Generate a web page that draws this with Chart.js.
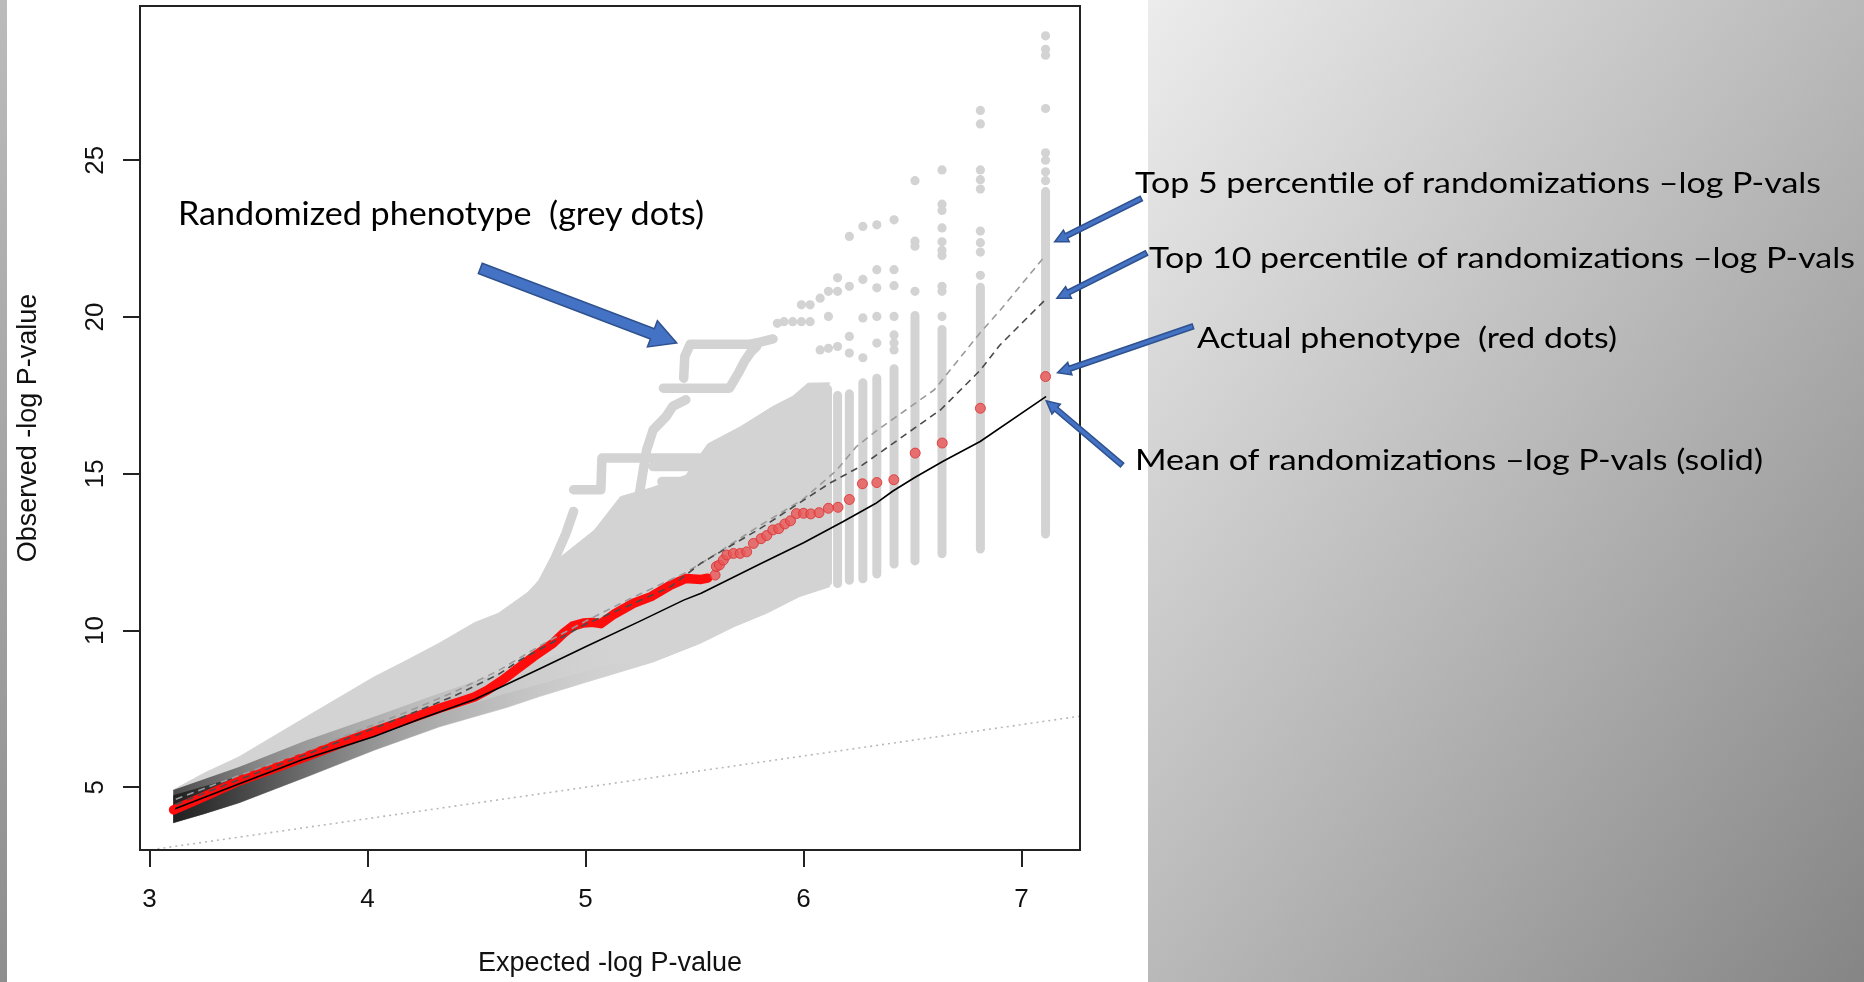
<!DOCTYPE html>
<html>
<head>
<meta charset="utf-8">
<script src="https://cdn.jsdelivr.net/npm/chart.js@4.4.1/dist/chart.umd.min.js"></script>
<style>
  html, body { margin: 0; padding: 0; }
  body { width: 1864px; height: 982px; position: relative; overflow: hidden; background: #fff; }
  #leftStrip { position: absolute; left: 0; top: 0; width: 7px; height: 982px; background: linear-gradient(180deg, #bbbbbb, #8e8e8e); }
  #rightPanel { position: absolute; left: 1148px; top: 0; width: 716px; height: 982px; background: linear-gradient(to bottom right, #ececec 0%, #b9b9b9 50%, #858585 100%); }
  #chart { position: absolute; left: 0; top: 0; }
  .note { position: absolute; font-family: Lato, "Open Sans", sans-serif; color: #000; white-space: pre; line-height: 1; transform-origin: 0 0; }
  .b { display: inline-block; width: 0; height: 0; vertical-align: baseline; }
</style>
</head>
<body>
<div id="leftStrip"></div>
<div id="rightPanel"></div>
<canvas id="chart" width="1864" height="982"></canvas>

<div class="note" data-left="178" data-base="225" data-w="526" style="font-size:33px">Randomized phenotype  (grey dots)<span class="b"></span></div>
<div class="note" data-left="1135" data-base="193" data-w="686" style="font-size:28px">Top 5 percentile of randomizations –log P-vals<span class="b"></span></div>
<div class="note" data-left="1149" data-base="268" data-w="706" style="font-size:28px">Top 10 percentile of randomizations –log P-vals<span class="b"></span></div>
<div class="note" data-left="1197" data-base="348" data-w="420" style="font-size:28px">Actual phenotype  (red dots)<span class="b"></span></div>
<div class="note" data-left="1135" data-base="470" data-w="628" style="font-size:28px">Mean of randomizations –log P-vals (solid)<span class="b"></span></div>

<script>
// axis ticks
const xTicks = [3, 4, 5, 6, 7];
const yTicks = [5, 10, 15, 20, 25];

// actual phenotype, dense part (drawn as a thick red line)
const redLineX = [3.11, 3.25, 3.41, 3.57, 3.72, 3.87, 4.03, 4.18, 4.33, 4.42, 4.49, 4.55, 4.62, 4.68, 4.76, 4.85, 4.90, 4.94, 4.99, 5.03, 5.07, 5.13, 5.22, 5.30, 5.39, 5.46, 5.53, 5.56];
const redLineY = [4.28, 4.70, 5.20, 5.60, 5.98, 6.38, 6.78, 7.15, 7.52, 7.72, 7.88, 8.10, 8.42, 8.74, 9.16, 9.59, 9.92, 10.14, 10.24, 10.26, 10.22, 10.52, 10.87, 11.08, 11.45, 11.66, 11.63, 11.67];

// actual phenotype, single dots
const redX = [5.594, 5.60, 5.614, 5.632, 5.648, 5.678, 5.709, 5.739, 5.770, 5.805, 5.831, 5.859, 5.886, 5.914, 5.940, 5.967, 6.000, 6.033, 6.071, 6.114, 6.158, 6.210, 6.270, 6.336, 6.414, 6.512, 6.636, 6.811, 7.110];
const redY = [11.77, 12.04, 12.09, 12.25, 12.41, 12.46, 12.46, 12.51, 12.78, 12.93, 13.03, 13.21, 13.25, 13.40, 13.50, 13.73, 13.74, 13.72, 13.76, 13.90, 13.93, 14.18, 14.68, 14.72, 14.81, 15.66, 15.98, 17.09, 18.10];

// mean of randomizations (solid)
const meanX = [3.12, 3.40, 3.70, 4.03, 4.24, 4.49, 4.79, 5.00, 5.25, 5.45, 5.53, 5.80, 6.00, 6.18, 6.33, 6.41, 6.51, 6.64, 6.81, 7.11];
const meanY = [4.32, 5.08, 5.88, 6.62, 7.18, 7.80, 8.78, 9.48, 10.30, 10.97, 11.19, 12.12, 12.80, 13.47, 14.05, 14.45, 14.88, 15.40, 16.03, 17.45];

// top 5 percentile (light dashed)
const top5X = [3.12, 3.40, 3.72, 4.00, 4.20, 4.40, 4.60, 4.80, 5.00, 5.20, 5.46, 5.60, 5.80, 6.00, 6.15, 6.24, 6.33, 6.60, 6.81, 6.90, 7.11];
const top5Y = [4.62, 5.35, 6.15, 6.92, 7.46, 8.05, 8.72, 9.55, 10.30, 11.00, 11.85, 12.45, 13.35, 14.20, 15.10, 15.85, 16.35, 17.68, 19.50, 20.20, 21.97];

// top 10 percentile (dark dashed)
const top10X = [3.12, 3.40, 3.72, 4.00, 4.20, 4.40, 4.60, 4.70, 5.00, 5.20, 5.39, 5.53, 5.80, 6.12, 6.26, 6.63, 6.81, 6.90, 7.11];
const top10Y = [4.45, 5.22, 6.05, 6.80, 7.35, 7.92, 8.60, 9.06, 10.20, 10.80, 11.40, 12.15, 13.25, 14.70, 15.23, 17.05, 18.30, 19.10, 20.56];

// randomized phenotypes: outline of the grey cloud
const bandLowX = [3.108, 3.25, 3.41, 3.72, 4.03, 4.33, 4.64, 4.79, 5.00, 5.31, 5.525, 5.68, 5.83, 5.98, 6.12];
const bandLowY = [3.86, 4.15, 4.50, 5.33, 6.18, 6.93, 7.55, 7.90, 8.35, 9.00, 9.59, 10.12, 10.55, 11.08, 11.40];
const bandHighX = [3.108, 3.25, 3.41, 3.72, 4.03, 4.18, 4.33, 4.49, 4.60, 4.75, 4.85, 5.04, 5.16, 5.30, 5.46, 5.56, 5.71, 5.86, 5.95, 6.02, 6.12];
const bandHighY = [4.91, 5.45, 5.97, 7.25, 8.52, 9.05, 9.60, 10.25, 10.55, 11.29, 12.15, 13.20, 14.27, 14.55, 14.95, 15.95, 16.50, 17.15, 17.47, 17.89, 17.90];
// darker, densely overlapping part of the cloud (outer and inner edge)
const darkHighX = [3.108, 3.41, 3.72, 4.03, 4.33, 4.64, 4.95, 5.30];
const darkHighY = [4.91, 5.65, 6.50, 7.25, 8.00, 8.74, 9.40, 10.10];
const darkCoreX = [3.108, 3.41, 3.72, 4.03, 4.33, 4.64, 4.95, 5.30];
const darkCoreY = [4.75, 5.35, 6.05, 6.70, 7.35, 8.00, 8.60, 9.30];

// single randomizations that stand out (step traces)
const trace1X = [4.72, 4.80, 4.86, 4.91, 4.945];
const trace1Y = [10.9, 11.5, 12.3, 13.1, 13.8];
const trace2X = [4.945, 5.07, 5.075, 5.57, 5.62];
const trace2Y = [14.49, 14.49, 15.5, 15.5, 15.65];
const trace3X = [5.18, 5.22, 5.25, 5.28, 5.31, 5.37, 5.40, 5.46];
const trace3Y = [12.8, 13.5, 14.5, 15.76, 16.4, 16.83, 17.15, 17.36];
const trace4X = [5.357, 5.66, 5.70, 5.73, 5.76, 5.785];
const trace4Y = [17.73, 17.73, 18.2, 18.6, 18.9, 19.06];
const trace5X = [5.45, 5.455, 5.48, 5.75, 5.80, 5.86];
const trace5Y = [18.05, 18.74, 19.13, 19.13, 19.2, 19.3];
const trace6X = [5.31, 5.57];
const trace6Y = [15.23, 15.23];
const trace7X = [5.35, 5.67];
const trace7Y = [14.75, 14.75];

// top hits of randomizations: columns at the largest expected values
const colX = [6.11, 6.156, 6.21, 6.272, 6.336, 6.415, 6.511, 6.635, 6.811, 7.11];
const colLow = [11.55, 11.50, 11.60, 11.65, 11.80, 12.12, 12.22, 12.45, 12.60, 13.08];
const colHigh = [17.70, 17.50, 17.55, 17.90, 18.05, 18.35, 20.05, 19.60, 20.95, 24.00];

// isolated grey dots above the columns
const greyDotX = [7.11, 7.11, 7.11, 7.11, 7.11, 7.11, 7.11, 7.11,
  6.811, 6.811, 6.811, 6.811, 6.811, 6.811, 6.811, 6.811, 6.811,
  6.635, 6.635, 6.635, 6.635, 6.635, 6.635, 6.635, 6.635, 6.635, 6.635,
  6.511, 6.511, 6.511, 6.511,
  6.415, 6.415, 6.415, 6.415, 6.415, 6.415, 6.415,
  6.336, 6.336, 6.336, 6.336, 6.336,
  6.272, 6.272, 6.272, 6.272,
  6.21, 6.21, 6.21, 6.21,
  6.156, 6.156, 6.156,
  6.114, 6.114, 6.114,
  6.076, 6.076, 6.03, 6.03, 5.99, 5.99, 5.95, 5.91, 5.88];
const greyDotY = [28.97, 28.54, 28.35, 26.65, 25.24, 25.0, 24.63, 24.35,
  26.59, 26.16, 24.69, 24.38, 24.08, 22.74, 22.37, 22.07, 21.33,
  24.69, 23.6, 23.4, 22.84, 22.4, 22.13, 21.96, 20.98, 20.82, 20.02,
  24.35, 22.42, 22.26, 20.82,
  23.1, 21.51, 21.0, 20.02, 19.43, 19.17, 18.95,
  22.94, 21.51, 20.93, 20.02, 19.17,
  22.89, 21.2, 19.97, 18.7,
  22.57, 20.98, 19.38, 18.85,
  21.25, 20.82, 19.06,
  20.82, 20.02, 19.0,
  20.6, 18.95, 20.39, 19.85, 20.39, 19.85, 19.85, 19.85, 19.8];

// null line y = x
const diagX = [2.9, 7.3];
const diagY = [2.9, 7.3];

// callout arrows, in data units (tail -> tip)
const arrows = [
  { from: [4.517, 21.55], to: [5.418, 19.17], shaft: 11, head: 26, headW: 28 },
  { from: [7.549, 23.78], to: [7.152, 22.40], shaft: 5, head: 13, headW: 13 },
  { from: [7.573, 22.04], to: [7.162, 20.60], shaft: 5, head: 13, headW: 13 },
  { from: [7.786, 19.70], to: [7.165, 18.22], shaft: 5, head: 13, headW: 13 },
  { from: [7.461, 15.28], to: [7.113, 17.33], shaft: 5, head: 13, headW: 13 }
];

const pts = (xs, ys) => xs.map((v, i) => ({ x: v, y: ys[i] }));
const withGaps = segs => segs.flatMap((s, k) => k ? [{ x: s[0].x, y: null }, ...s] : s);

const GREY = '#d3d3d3';
const FONT = "'Liberation Sans', Arial, sans-serif";

const columnData = withGaps(colX.map((v, i) => [{ x: v, y: colLow[i] }, { x: v, y: colHigh[i] }]));
const traceData = withGaps([
  pts(trace1X, trace1Y), pts(trace2X, trace2Y), pts(trace3X, trace3Y), pts(trace4X, trace4Y),
  pts(trace5X, trace5Y), pts(trace6X, trace6Y), pts(trace7X, trace7Y)
]);

// horizontal gradient, dark at the low end of the expected axis
function shade(stops) {
  return context => {
    const chart = context.chart;
    if (!chart.chartArea) return 'rgba(0,0,0,0)';
    const xs = chart.scales.x;
    const g = chart.ctx.createLinearGradient(xs.getPixelForValue(3.1), 0, xs.getPixelForValue(5.3), 0);
    stops.forEach(s => g.addColorStop(s[0], s[1]));
    return g;
  };
}
const outerShade = shade([[0, 'rgba(40,40,40,0.8)'], [0.2, 'rgba(80,80,80,0.55)'], [0.5, 'rgba(140,140,140,0.35)'], [1, 'rgba(211,211,211,0)']]);
const innerShade = shade([[0, 'rgba(20,20,20,0.8)'], [0.2, 'rgba(50,50,50,0.6)'], [0.45, 'rgba(110,110,110,0.35)'], [0.8, 'rgba(170,170,170,0.15)'], [1, 'rgba(211,211,211,0)']]);

const plotBox = {
  id: 'plotBox',
  afterDatasetsDraw(chart) {
    const { ctx, chartArea: a } = chart;
    ctx.save();
    ctx.strokeStyle = '#222';
    ctx.lineWidth = 2;
    ctx.strokeRect(a.left, a.top, a.right - a.left, a.bottom - a.top);
    ctx.restore();
  }
};

const arrowPlugin = {
  id: 'arrows',
  afterDraw(chart) {
    const { ctx, scales: { x, y } } = chart;
    ctx.save();
    arrows.forEach(a => {
      const x0 = x.getPixelForValue(a.from[0]), y0 = y.getPixelForValue(a.from[1]);
      const x1 = x.getPixelForValue(a.to[0]), y1 = y.getPixelForValue(a.to[1]);
      const len = Math.hypot(x1 - x0, y1 - y0);
      ctx.save();
      ctx.translate(x0, y0);
      ctx.rotate(Math.atan2(y1 - y0, x1 - x0));
      ctx.beginPath();
      ctx.moveTo(0, -a.shaft / 2);
      ctx.lineTo(len - a.head, -a.shaft / 2);
      ctx.lineTo(len - a.head, -a.headW / 2);
      ctx.lineTo(len, 0);
      ctx.lineTo(len - a.head, a.headW / 2);
      ctx.lineTo(len - a.head, a.shaft / 2);
      ctx.lineTo(0, a.shaft / 2);
      ctx.closePath();
      ctx.fillStyle = '#4472c4';
      ctx.fill();
      ctx.strokeStyle = '#2f528f';
      ctx.lineWidth = 1.5;
      ctx.stroke();
      ctx.restore();
    });
    ctx.restore();
  }
};

const lineBase = { pointRadius: 0, fill: false, tension: 0, borderCapStyle: 'round', borderJoinStyle: 'round' };

new Chart(document.getElementById('chart'), {
  type: 'line',
  data: {
    datasets: [
      { ...lineBase, label: 'band low', data: pts(bandLowX, bandLowY), borderColor: GREY, borderWidth: 1, order: 12 },
      { ...lineBase, label: 'band high', data: pts(bandHighX, bandHighY), borderColor: GREY, borderWidth: 1, backgroundColor: GREY, fill: 0, order: 11 },
      { ...lineBase, label: 'dark outer', data: pts(darkHighX, darkHighY), borderWidth: 0, borderColor: 'rgba(0,0,0,0)', backgroundColor: outerShade, fill: 0, order: 10 },
      { ...lineBase, label: 'dark inner', data: pts(darkCoreX, darkCoreY), borderWidth: 0, borderColor: 'rgba(0,0,0,0)', backgroundColor: innerShade, fill: 0, order: 9 },
      { ...lineBase, label: 'columns', data: columnData, borderColor: GREY, borderWidth: 9, spanGaps: false, order: 7 },
      { ...lineBase, label: 'traces', data: traceData, borderColor: GREY, borderWidth: 9.5, spanGaps: false, order: 7 },
      { label: 'grey dots', data: pts(greyDotX, greyDotY), showLine: false, pointRadius: 4.6, pointBackgroundColor: GREY, pointBorderWidth: 0, order: 7 },
      { ...lineBase, label: 'y = x', data: pts(diagX, diagY), borderColor: '#b8b8b8', borderWidth: 1.6, borderDash: [2, 4], borderCapStyle: 'butt', order: 6 },
      { ...lineBase, label: 'actual line', data: pts(redLineX, redLineY), borderColor: '#ff0d0d', borderWidth: 9.5, order: 5 },
      { label: 'actual dots', data: pts(redX, redY), showLine: false, pointRadius: 5, pointBackgroundColor: 'rgba(234,86,86,0.8)', pointBorderColor: 'rgba(220,50,50,0.85)', pointBorderWidth: 1, order: 4 },
      { ...lineBase, label: 'top 5', data: pts(top5X, top5Y), borderColor: '#9a9a9a', borderWidth: 1.6, borderDash: [7, 5], borderCapStyle: 'butt', order: 3 },
      { ...lineBase, label: 'top 10', data: pts(top10X, top10Y), borderColor: '#4a4a4a', borderWidth: 1.6, borderDash: [7, 5], borderCapStyle: 'butt', order: 2 },
      { ...lineBase, label: 'mean', data: pts(meanX, meanY), borderColor: '#000', borderWidth: 1.6, order: 1 }
    ]
  },
  options: {
    responsive: false,
    animation: false,
    events: [],
    layout: { padding: { left: 0, top: 6, right: 784, bottom: 0 } },
    plugins: { legend: { display: false }, tooltip: { enabled: false } },
    scales: {
      x: {
        type: 'linear',
        min: 2.956,
        max: 7.268,
        afterFit: s => { s.height = 132; s.paddingLeft = 0; s.paddingRight = 0; },
        afterBuildTicks: s => { s.ticks = xTicks.map(v => ({ value: v })); },
        grid: { drawOnChartArea: false, tickLength: 17, color: '#222', lineWidth: 2 },
        border: { display: true, color: '#222', width: 2 },
        ticks: { font: { family: FONT, size: 26 }, color: '#111', padding: 17, maxRotation: 0, autoSkip: false },
        title: { display: true, text: 'Expected -log P-value', font: { family: FONT, size: 27 }, color: '#111', padding: { top: 0, bottom: 2 } }
      },
      y: {
        type: 'linear',
        min: 3.0,
        max: 29.92,
        afterFit: s => { s.width = 140; s.paddingTop = 0; s.paddingBottom = 0; },
        afterBuildTicks: s => { s.ticks = yTicks.map(v => ({ value: v })); },
        grid: { drawOnChartArea: false, tickLength: 17, color: '#222', lineWidth: 2 },
        border: { display: true, color: '#222', width: 2 },
        ticks: { font: { family: FONT, size: 26 }, color: '#111', padding: 13, minRotation: 90, maxRotation: 90, crossAlign: 'center', autoSkip: false },
        title: { display: true, text: 'Observed -log P-value', font: { family: FONT, size: 27 }, color: '#111', padding: { top: 12, bottom: 0 } }
      }
    }
  },
  plugins: [plotBox, arrowPlugin]
});

// place the callout texts on their baselines and fit them to their widths
function placeNotes() {
  document.querySelectorAll('.note').forEach(el => {
    el.style.transform = 'none';
    el.style.left = el.dataset.left + 'px';
    el.style.top = '0px';
    const base = el.querySelector('.b').offsetTop;
    el.style.top = (Number(el.dataset.base) - base) + 'px';
    const w = el.getBoundingClientRect().width;
    el.style.transform = 'scaleX(' + (Number(el.dataset.w) / w) + ')';
  });
}
placeNotes();
document.fonts.load('28px Lato').then(placeNotes);
</script>
</body>
</html>
